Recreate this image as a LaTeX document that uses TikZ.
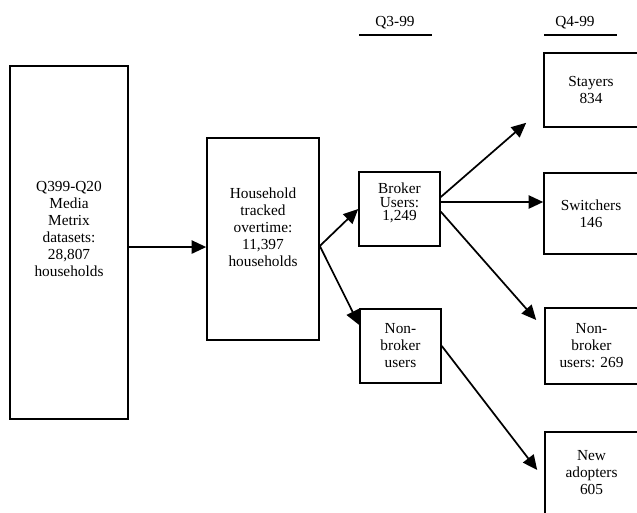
\documentclass[tikz,border=0pt]{standalone}
\usepackage{fontspec}
\setmainfont{Liberation Serif}
\usetikzlibrary{arrows.meta}
\tikzset{
    flowbox/.style = {draw=black, line width=1.2pt, align=center, inner sep=2pt, font=\fontsize{11.5}{12.75}\selectfont},
    flowarrow/.style = {-{Triangle[length=11pt,width=10pt]}, line width=1.3pt},
    header/.style = {font=\fontsize{11.5}{12.75}\selectfont}
}

\begin{document}
\begin{tikzpicture}[x=0.75pt, y=-0.75pt]
    \useasboundingbox (0,0) rectangle (637,512);
    \clip (0,0) rectangle (637,512);
    % quarter headings
    \node [header] (q3) at (395,23) {Q3-99};
    \node [header] (q4) at (575,23) {Q4-99};
    \draw [line width=1.2pt] (359,35) -- (432,35);
    \draw [line width=1.2pt] (544,35) -- (617,35);

    \node [flowbox, minimum width=88.5pt, minimum height=264.75pt] (data) at (69,242.5)
        {Q399-Q20\\ Media\\ Metrix\\ datasets:\\ 28,807\\ households\rule[-21pt]{0pt}{0pt}};
    \node [flowbox, minimum width=84pt, minimum height=151.5pt] (tracked) at (263,239)
        {Household\\ tracked\\ overtime:\\ 11,397\\ households\rule[-18pt]{0pt}{0pt}};
    \node [flowbox, font=\fontsize{11.5}{10}\selectfont, minimum width=60.75pt, minimum height=55.5pt] (broker) at (399.5,209)
        {Broker\\ Users:\\ 1,249\rule[-10.5pt]{0pt}{0pt}};
    \node [flowbox, minimum width=60.75pt, minimum height=55.5pt] (nonbroker) at (400.5,346)
        {Non-\\ broker\\ users};
    \node [flowbox, minimum width=70.5pt, minimum height=55.5pt] (stayers) at (591,90)
        {Stayers\\ 834};
    \node [flowbox, minimum width=70.5pt, minimum height=60.75pt] (switchers) at (591,213.5)
        {Switchers\\ 146};
    \node [flowbox, minimum width=69.75pt, minimum height=57pt] (nonbrokerq4) at (591.5,346)
        {Non-\\ broker\\ users: 269};
    \node [flowbox, minimum width=69.75pt, minimum height=61.5pt] (newadopters) at (591.5,473)
        {New\\ adopters\\ 605};

    \draw [flowarrow] ([yshift=-3.4pt]data.east) -- ([yshift=-3.4pt]data.east -| tracked.west);
    \coordinate (fork) at ([yshift=-5.25pt]tracked.east);
    \draw [flowarrow] (fork) -- (broker.west);
    \draw [flowarrow] (fork) -- ([yshift=15.75pt]nonbroker.west);
    \draw [flowarrow] ([yshift=9pt]broker.east) -- ([xshift=-12.75pt,yshift=3.75pt]stayers.south west);
    \draw [flowarrow] ([yshift=5.25pt]broker.east) -- ([yshift=5.25pt]broker.east -| switchers.west);
    \draw [flowarrow] ([yshift=-2pt]broker.east) -- ([xshift=-6pt,yshift=19.5pt]nonbrokerq4.west);
    \draw [flowarrow] (nonbroker.east) -- ([xshift=-5.25pt,yshift=2.25pt]newadopters.west);
\end{tikzpicture}
\end{document}
